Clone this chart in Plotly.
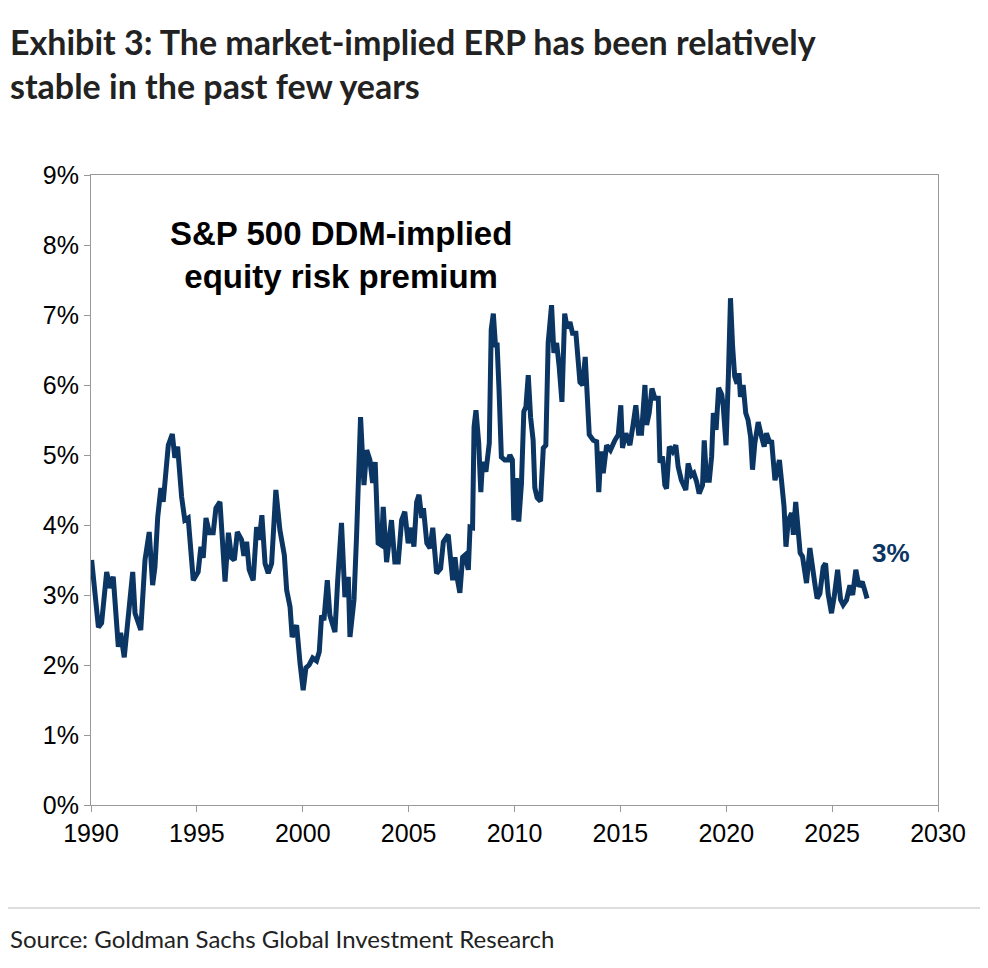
import plotly.graph_objects as go

# (year, ERP %)
years = [1990.03, 1990.35, 1990.5, 1990.66, 1990.74, 1990.9, 1991.05, 1991.29, 1991.4, 1991.57,
         1991.76, 1991.97, 1992.08, 1992.35, 1992.55, 1992.75, 1992.91, 1993.02, 1993.15, 1993.3,
         1993.41, 1993.65, 1993.84, 1993.96, 1994.09, 1994.28, 1994.43, 1994.59, 1994.83, 1995.06,
         1995.19, 1995.3, 1995.43, 1995.59, 1995.77, 1995.9, 1996.09, 1996.22, 1996.33, 1996.49,
         1996.64, 1996.77, 1996.91, 1997.11, 1997.22, 1997.35, 1997.47, 1997.66, 1997.82, 1997.95,
         1998.07, 1998.22, 1998.37, 1998.53, 1998.73, 1998.92, 1999.13, 1999.24, 1999.4, 1999.5,
         1999.71, 1999.87, 2000.02, 2000.15, 2000.3, 2000.47, 2000.65, 2000.78, 2000.89, 2001.0,
         2001.16, 2001.28, 2001.52, 2001.65, 2001.83, 2001.99, 2002.15, 2002.23, 2002.42, 2002.54,
         2002.73, 2002.89, 2003.02, 2003.17, 2003.3, 2003.42, 2003.56, 2003.72, 2003.8, 2003.96,
         2004.19, 2004.35, 2004.51, 2004.67, 2004.82, 2004.98, 2005.14, 2005.25, 2005.38, 2005.49,
         2005.62, 2005.7, 2005.86, 2006.01, 2006.14, 2006.32, 2006.51, 2006.64, 2006.87, 2007.08,
         2007.19, 2007.3, 2007.42, 2007.55, 2007.66, 2007.82, 2007.9, 2008.02, 2008.09, 2008.18,
         2008.31, 2008.41, 2008.49, 2008.65, 2008.81, 2008.9, 2009.0, 2009.1, 2009.18, 2009.27,
         2009.38, 2009.54, 2009.7, 2009.78, 2009.9, 2009.97, 2010.09, 2010.2, 2010.33, 2010.44,
         2010.54, 2010.65, 2010.76, 2010.88, 2010.96, 2011.07, 2011.23, 2011.36, 2011.48, 2011.59,
         2011.75, 2011.86, 2011.99, 2012.11, 2012.24, 2012.37, 2012.49, 2012.62, 2012.74, 2012.9,
         2013.09, 2013.22, 2013.34, 2013.53, 2013.72, 2013.88, 2013.98, 2014.08, 2014.19, 2014.35,
         2014.53, 2014.74, 2014.9, 2015.02, 2015.1, 2015.26, 2015.45, 2015.6, 2015.73, 2015.86,
         2016.0, 2016.16, 2016.24, 2016.36, 2016.49, 2016.63, 2016.79, 2016.87, 2016.99, 2017.1,
         2017.18, 2017.31, 2017.47, 2017.62, 2017.73, 2017.88, 2018.09, 2018.2, 2018.36, 2018.47,
         2018.6, 2018.72, 2018.88, 2018.96, 2019.07, 2019.2, 2019.31, 2019.39, 2019.52, 2019.64,
         2019.79, 2019.86, 2019.99, 2020.1, 2020.2, 2020.3, 2020.4, 2020.51, 2020.6, 2020.67,
         2020.8, 2020.92, 2021.03, 2021.15, 2021.24, 2021.35, 2021.51, 2021.67, 2021.79, 2021.9,
         2022.06, 2022.14, 2022.3, 2022.38, 2022.51, 2022.62, 2022.73, 2022.82, 2022.93, 2023.09,
         2023.17, 2023.28, 2023.36, 2023.49, 2023.6, 2023.79, 2023.95, 2024.07, 2024.18, 2024.29,
         2024.42, 2024.58, 2024.69, 2024.81, 2024.97, 2025.1, 2025.26, 2025.4, 2025.52, 2025.68,
         2025.84, 2025.97, 2026.12, 2026.27, 2026.42, 2026.54, 2026.65]
erp = [3.5, 2.54, 2.6, 3.07, 3.33, 3.1, 3.26, 2.26, 2.46, 2.11,
       2.79, 3.33, 2.74, 2.5, 3.5, 3.9, 3.14, 3.4, 4.11, 4.53,
       4.33, 5.14, 5.3, 4.96, 5.12, 4.4, 4.07, 4.1, 3.21, 3.33,
       3.69, 3.53, 4.1, 3.89, 3.89, 4.24, 4.33, 3.79, 3.19, 3.89,
       3.53, 3.5, 3.9, 3.79, 3.56, 3.76, 3.36, 3.21, 3.97, 3.79,
       4.14, 3.45, 3.31, 3.45, 4.5, 3.93, 3.57, 3.07, 2.83, 2.4,
       2.57, 2.03, 1.64, 1.96, 2.0, 2.1, 2.06, 2.19, 2.71, 2.64,
       3.21, 2.71, 2.47, 3.21, 4.03, 2.97, 3.26, 2.4, 2.93, 3.83,
       5.54, 4.57, 5.07, 4.93, 4.6, 4.9, 3.74, 3.71, 4.26, 3.47,
       4.07, 3.47, 3.47, 4.07, 4.19, 3.74, 3.96, 3.69, 4.33, 4.43,
       4.1, 4.24, 3.74, 3.67, 3.96, 3.31, 3.38, 3.76, 3.86, 3.21,
       3.54, 3.23, 3.03, 3.54, 3.57, 3.36, 3.97, 3.96, 5.4, 5.64,
       5.17, 4.47, 4.9, 4.76, 5.17, 6.79, 7.02, 6.57, 6.57, 5.93,
       4.97, 4.93, 4.93, 5.0, 4.93, 4.07, 4.67, 4.05, 4.6, 5.62,
       5.69, 6.14, 5.54, 5.21, 4.53, 4.39, 4.34, 5.1, 5.14, 6.6,
       7.14, 6.46, 6.6, 6.26, 5.76, 7.02, 6.81, 6.9, 6.74, 6.74,
       6.04, 6.0, 6.4, 5.29, 5.21, 5.19, 4.47, 5.05, 4.74, 5.14,
       5.07, 5.21, 5.29, 5.71, 5.1, 5.31, 5.14, 5.43, 5.71, 5.31,
       5.31, 6.0, 5.43, 5.6, 5.95, 5.81, 5.81, 4.89, 4.98, 4.57,
       4.52, 5.12, 5.05, 5.14, 4.83, 4.64, 4.5, 4.88, 4.71, 4.74,
       4.62, 4.45, 4.57, 5.21, 4.64, 4.64, 4.98, 5.6, 5.36, 5.96,
       5.86, 5.69, 5.14, 6.12, 7.24, 6.55, 6.12, 6.02, 6.17, 5.83,
       6.0, 5.6, 5.5, 5.26, 4.79, 5.17, 5.47, 5.26, 5.12, 5.31,
       5.17, 5.21, 4.64, 4.74, 4.93, 4.6, 4.26, 3.69, 4.07, 4.17,
       3.86, 4.33, 4.07, 3.6, 3.55, 3.17, 3.67, 3.36, 3.17, 2.95,
       3.02, 3.4, 3.45, 3.02, 2.74, 2.98, 3.36, 2.93, 2.86, 2.93,
       3.14, 3.0, 3.36, 3.12, 3.19, 3.07, 2.95]

navy = "#0b3563"
ax_font = dict(family="Liberation Sans, Arial", size=25, color="#000")

fig = go.Figure(go.Scatter(x=years, y=erp, mode="lines",
                           line=dict(color=navy, width=5), hoverinfo="skip"))

fig.update_layout(
    width=988, height=968, margin=dict(l=83, r=58, t=167, b=171),
    plot_bgcolor="white", paper_bgcolor="white", showlegend=False,
    xaxis=dict(range=[1990, 2030], tickvals=list(range(1990, 2031, 5)), showgrid=False,
               zeroline=False, ticks="outside", ticklen=6, tickcolor="#999",
               showline=True, linecolor="#999", mirror=True, tickfont=ax_font),
    yaxis=dict(range=[0, 9], tickvals=list(range(10)), ticktext=[f"{v}%" for v in range(10)],
               showgrid=False, zeroline=False, ticks="outside", ticklen=6, tickcolor="#999",
               showline=True, linecolor="#999", mirror=True, tickfont=ax_font),
    shapes=[dict(type="line", xref="paper", yref="paper", x0=-0.098, x1=1.06,
                 y0=-0.1635, y1=-0.1635, line=dict(color="#bbb", width=1))],
    annotations=[
        dict(text="<b>Exhibit 3: The market-implied ERP has been relatively<br>stable in the past few years</b>",
             xref="paper", yref="paper", x=-0.098, y=1.248, xanchor="left", yanchor="top",
             align="left", showarrow=False,
             font=dict(family="Lato", size=34, color="#222")),
        dict(text="<b>S&P 500 DDM-implied<br>equity risk premium</b>", xref="paper", yref="paper",
             x=0.295, y=0.94, xanchor="center", yanchor="top", showarrow=False,
             font=dict(family="Liberation Sans, Arial", size=33, color="#000")),
        dict(text="<b>3%</b>", x=2027.8, y=3.6, xanchor="center", yanchor="middle",
             showarrow=False, font=dict(family="Liberation Sans, Arial", size=26, color=navy)),
        dict(text="Source: Goldman Sachs Global Investment Research", xref="paper", yref="paper",
             x=-0.098, y=-0.185, xanchor="left", yanchor="top", showarrow=False,
             font=dict(family="Lato", size=24, color="#222")),
    ],
)

fig.write_html("out.html")
